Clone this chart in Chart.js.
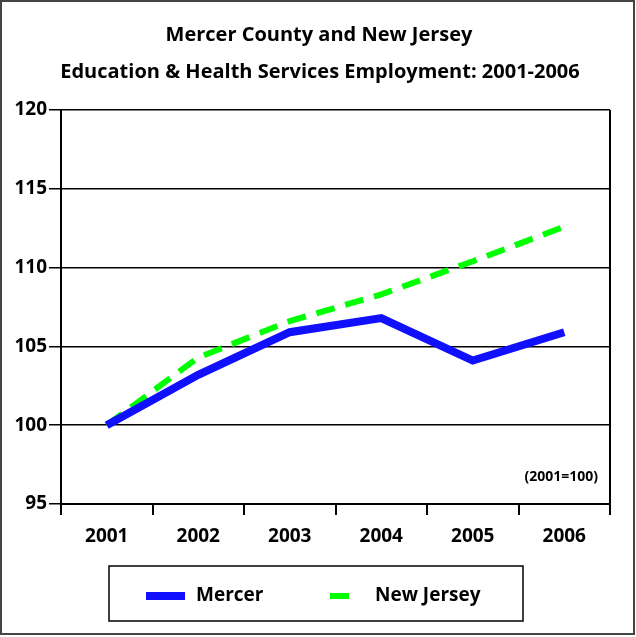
<!DOCTYPE html>
<html lang="en">
<head>
  <meta charset="UTF-8" />
  <title>Mercer County and New Jersey - Education & Health Services Employment</title>
  <script src="https://cdn.jsdelivr.net/npm/chart.js@4/dist/chart.umd.min.js"></script>
  <style>
    body { margin: 0; background: #fff; }
    .wrap { width: 636px; height: 637px; position: relative; }
  </style>
</head>
<body>
  <div class="wrap">
    <canvas id="empChart" width="636" height="637"></canvas>
  </div>

  <script>
    const years = ['2001', '2002', '2003', '2004', '2005', '2006'];
    const mercer = [100, 103.2, 105.9, 106.8, 104.1, 105.9];
    const newJersey = [100, 104.3, 106.6, 108.3, 110.4, 112.6];
    const yTicks = [95, 100, 105, 110, 115, 120];
    const titleLines = ['Mercer County and New Jersey', 'Education & Health Services Employment: 2001-2006'];
    const baseNote = '(2001=100)';

    const FONT = "'Comic Sans MS', 'Open Sans', sans-serif";
    Chart.defaults.font.family = FONT;
    Chart.defaults.color = '#000';

    // title, frame, note and boxed legend drawn on the canvas
    const decor = {
      id: 'decor',
      afterDraw(chart) {
        const c = chart.ctx;
        const a = chart.chartArea;
        c.save();
        // outer frame
        c.strokeStyle = '#444';
        c.lineWidth = 2;
        c.strokeRect(1, 1, 633, 633);
        // right side of plot
        c.strokeStyle = '#000';
        c.lineWidth = 2;
        c.beginPath();
        c.moveTo(a.right, a.top);
        c.lineTo(a.right, a.bottom + 11);
        c.stroke();
        // titles
        c.fillStyle = '#000';
        c.textAlign = 'center';
        c.textBaseline = 'middle';
        c.font = 'bold 20px ' + FONT;
        c.fillText(titleLines[0], 319, 35);
        c.fillText(titleLines[1], 320, 72);
        // note
        c.font = 'bold 14px ' + FONT;
        c.textAlign = 'right';
        c.fillText(baseNote, 598, 477);
        // legend
        c.lineWidth = 1.5;
        c.strokeStyle = '#000';
        c.strokeRect(109, 566, 414, 55);
        const items = [
          { x: 146, tx: 196 },
          { x: 330, tx: 375 }
        ];
        c.font = 'bold 19px ' + FONT;
        c.textAlign = 'left';
        chart.data.datasets.forEach((ds, i) => {
          const it = items[i];
          c.strokeStyle = ds.borderColor;
          c.lineWidth = ds.borderWidth;
          c.setLineDash(ds.borderDash || []);
          c.beginPath();
          c.moveTo(it.x, 596);
          c.lineTo(i === 0 ? it.x + 39 : it.x + 20, 596);
          c.stroke();
          c.setLineDash([]);
          c.fillText(ds.label, it.tx, 596);
        });
        c.restore();
      }
    };

    new Chart(document.getElementById('empChart'), {
      type: 'line',
      data: {
        labels: years,
        datasets: [
          {
            label: 'Mercer',
            data: mercer,
            borderColor: '#1010ff',
            borderWidth: 8,
            pointRadius: 0,
            tension: 0,
            borderJoinStyle: 'miter'
          },
          {
            label: 'New Jersey',
            data: newJersey,
            borderColor: '#00ff00',
            borderWidth: 6,
            borderDash: [19, 11],
            pointRadius: 0,
            tension: 0
          }
        ]
      },
      options: {
        responsive: false,
        animation: false,
        layout: { padding: { top: 110, right: 26, bottom: 93, left: 0 } },
        plugins: {
          legend: { display: false },
          title: { display: false },
          tooltip: { enabled: false }
        },
        scales: {
          x: {
            offset: true,
            grid: {
              offset: true,
              drawOnChartArea: false,
              color: '#000',
              lineWidth: 2,
              tickLength: 11
            },
            border: { color: '#000', width: 2 },
            ticks: {
              padding: 10,
              font: { size: 19, weight: 'bold' }
            },
            afterFit(scale) { scale.height = 40; }
          },
          y: {
            min: 95,
            max: 120,
            afterBuildTicks(scale) {
              scale.ticks = yTicks.map(v => ({ value: v }));
            },
            grid: {
              color: '#000',
              lineWidth: 1.5,
              tickLength: 12
            },
            border: { color: '#000', width: 2 },
            ticks: {
              padding: 2,
              font: { size: 19, weight: 'bold' }
            },
            afterFit(scale) { scale.width = 61; }
          }
        }
      },
      plugins: [decor]
    });
  </script>
</body>
</html>
